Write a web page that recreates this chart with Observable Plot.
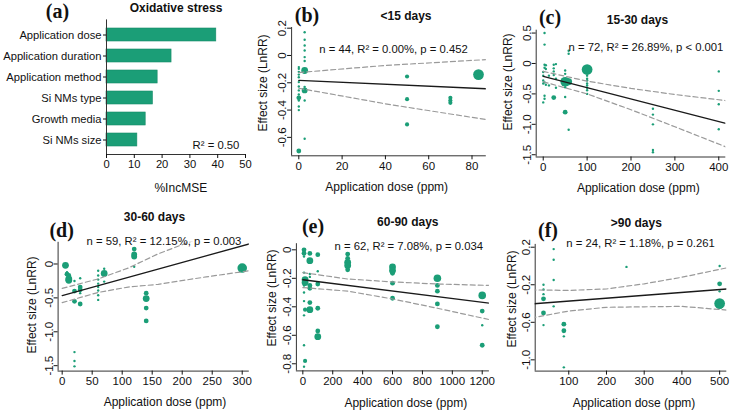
<!DOCTYPE html>
<html><head><meta charset="utf-8">
<script src="https://cdn.jsdelivr.net/npm/d3@7"></script>
<script src="https://cdn.jsdelivr.net/npm/@observablehq/plot@0.6"></script>
<style>
body{margin:0;background:#fff;font-family:"Liberation Sans",Arial,sans-serif;color:#111}
#fig{position:relative;width:732px;height:414px;overflow:hidden}
.panel{position:absolute}
.panel svg{overflow:visible}
.lbl{position:absolute;transform:translate(-50%,-50%);white-space:nowrap;line-height:1}
.letter{font-family:"Liberation Serif",serif;font-weight:bold;font-size:20px}
.title{font-weight:bold;font-size:12px}
.stat{font-size:11.3px}
.axt{font-size:12px}
</style></head><body><div id="fig"></div>
<script>
// ---------- (a) Random forest importance ----------
const aCategories = ["Application dose","Application duration","Application method","Si NMs type","Growth media","Si NMs size"];
const aIncMSE = [39.5, 23.4, 18.4, 16.7, 14.1, 11.1];
const aXTicks = [0,10,20,30,40,50];

// ---------- (b) <15 days ----------
const bDose = [0,0,0,0,0,0,0,0,0,0,0,0,0,0, 2.7,2.7,2.7,2.7,2.7,2.7,2.7,2.7,2.7,2.7,2.7, 50,50,50, 70,70,70, 83];
const bLnRR = [-0.085,-0.098,-0.12,-0.14,-0.16,-0.195,-0.227,-0.256,-0.286,-0.31,-0.33,-0.374,-0.40,-0.70,
  0.17,0.115,0.073,0.037,-0.012,-0.04,-0.11,-0.23,-0.256,-0.33,-0.61, -0.154,-0.32,-0.505, -0.31,-0.33,-0.347, -0.14];
const bWeight = [1,1,1,1,1,1,1,1,1,4,1,1,1,4, 1,1,1,1,1,1,8,1,6,1,1, 3,3,3, 3,3,3, 20];
const bFitDose = [0, 86.6], bFitLnRR = [-0.183, -0.244];
const bCIDose = [0, 40, 86.6], bCIUpper = [-0.125, -0.073, -0.03], bCILower = [-0.24, -0.354, -0.47];
const bXTicks = [0,20,40,60,80], bYTicks = [-0.6,-0.4,-0.2,0,0.2];

// ---------- (c) 15-30 days ----------
const cDose = [0,0,0,0,0, 3,3,3,3,3,3,3, 6,6,6, 13,13, 24,24,24,24,24, 29,29,29, 50,50,50,50,50,50, 58,58,58,58,
  100,100,100,100,100,100,100,100,100, 250,250,250,250,250, 400,400,400,400];
const cLnRR = [-0.14,-0.20,-0.28,-0.33,-0.64, 0.50,0.31,-0.02,-0.07,-0.31,-0.53,-0.58, -0.03,-0.09,-0.35, -0.20,-0.36,
  -0.02,-0.08,-0.13,-0.19,-0.56, -0.01,-0.25,-0.40, -0.115,-0.17,-0.39,-0.55,-0.30,-0.80, 0.21,0.16,-1.09,-0.30,
  -0.10,-0.20,-0.25,-0.28,-0.33,-0.36,-0.40,-0.44,-0.50, -0.745,-0.84,-1.0,-1.42,-1.46, -0.13,-0.45,-0.67,-1.08];
const cWeight = [1,1,1,1,1, 1,1,1,1,1,1,1, 1,1,1, 1,1, 1,1,1,1,4, 1,1,1, 1,1,1,1,16,4, 1,1,1,8,
  20,1,1,1,1,1,1,1,1, 1,1,1,1,1, 1,1,1,1];
const cFitDose = [0, 416], cFitLnRR = [-0.21, -0.985];
const cCIDose = [0,100,200,300,416], cCIUpper = [-0.13,-0.29,-0.41,-0.51,-0.61], cCILower = [-0.30,-0.50,-0.76,-1.04,-1.37];
const cXTicks = [0,100,200,300,400], cYTicks = [-1.5,-1,-0.5,0,0.5];

// ---------- (d) 30-60 days ----------
const dDose = [5.5, 8,8, 11,11,11, 20.5,20.5,20.5,20.5,20.5,20.5, 30,30,30,30,30, 60,60,60,60,60,60,60,60, 70,70,70,
  120,120,120,120, 140,140,140,140, 300];
const dLnRR = [-0.02, -0.12,-0.15, -0.17,-0.22,-0.24, -0.25,-0.40,-0.55,-1.30,-1.43,-1.51, -0.21,-0.34,-0.38,-0.43,-0.59,
  -0.10,-0.17,-0.23,-0.29,-0.34,-0.39,-0.46,-0.53, -0.07,-0.14,-0.26, 0.22,0.14,0.11,-0.04, -0.43,-0.51,-0.65,-0.84, -0.06];
const dWeight = [8, 1,4, 4,8,8, 1,4,4,1,1,1, 1,4,4,1,4, 1,1,1,1,1,1,1,1, 1,8,1, 4,6,6,1, 4,8,4,4, 16];
const dFitDose = [0, 311.8], dFitLnRR = [-0.465, 0.296];
const dCIDose = [0,60,110,160,240,311.8], dCIUpper = [-0.36,-0.22,-0.06,0.15,0.42,0.69], dCILower = [-0.57,-0.42,-0.34,-0.30,-0.19,-0.10];
const dXTicks = [0,50,100,150,200,250,300], dYTicks = [-1.5,-1,-0.5,0];

// ---------- (e) 60-90 days ----------
const eDose = [8,8,8,8,8,8,8,8,8,8, 15,15,15,15, 47,47,47,47,47,47,47,47, 100,100,100,100,100,100,
  300,300,300,300,300, 600,600,600,600,600, 900,900,900,900,900, 1200,1200,1200,1200];
const eLnRR = [0.0,-0.024,-0.047,-0.16,-0.25,-0.30,-0.36,-0.46,-0.67,-0.82, -0.21,-0.23,-0.42,-0.78,
  -0.025,-0.076,-0.17,-0.19,-0.25,-0.27,-0.37,-0.42, -0.034,-0.15,-0.24,-0.41,-0.57,-0.61,
  -0.03,-0.06,-0.088,-0.11,-0.14, -0.12,-0.146,-0.165,-0.234,-0.34, -0.20,-0.25,-0.29,-0.38,-0.54, -0.32,-0.43,-0.53,-0.67];
const eWeight = [4,4,1,1,1,1,1,1,1,1, 8,8,3,3, 4,8,1,1,4,4,4,8, 4,1,4,4,4,8, 4,4,8,8,4, 8,8,4,4,4, 10,4,4,4,4, 10,4,1,4];
const eFitDose = [0, 1248], eFitLnRR = [-0.21, -0.374];
const eCIDose = [0,300,600,900,1248], eCIUpper = [-0.16,-0.205,-0.225,-0.24,-0.25], eCILower = [-0.265,-0.29,-0.345,-0.41,-0.49];
const eXTicks = [0,200,400,600,800,1000,1200], eYTicks = [-0.8,-0.6,-0.4,-0.2,0];

// ---------- (f) >90 days ----------
const fDose = [33,33,33,33,33,33, 60,60,60,60, 87,87,87,87, 253, 500,500,500,500,500];
const fLnRR = [-0.20,-0.25,-0.30,-0.35,-0.50,-0.63, 0.18,0.066,-0.15,-0.43, -0.62,-0.69,-0.75,-1.08, -0.01, 0.0,-0.19,-0.27,-0.40,-0.42];
const fWeight = [1,1,1,4,4,1, 1,1,1,1, 4,4,1,1, 1, 1,4,1,20,8];
const fFitDose = [0, 519], fFitLnRR = [-0.405, -0.245];
const fCIDose = [0,100,200,300,400,519], fCIUpper = [-0.255,-0.26,-0.245,-0.19,-0.12,-0.02], fCILower = [-0.555,-0.48,-0.44,-0.435,-0.43,-0.47];
const fXTicks = [100,200,300,400,500], fYTicks = [-1,-0.6,-0.2,0.2];

// ---------- drawing ----------
const GREEN = "#1b9e77";
const fig = document.getElementById("fig");
const baseStyle = {fontFamily: "Liberation Sans, Arial, sans-serif", fontSize: "11.5px", color: "#111", background: "transparent", overflow: "visible"};

function place(node, left, top) {
  const div = document.createElement("div");
  div.className = "panel";
  div.style.left = left + "px"; div.style.top = top + "px";
  div.appendChild(node); fig.appendChild(div);
}
function label(text, x, y, cls, rot) {
  const d = document.createElement("div");
  d.className = "lbl " + cls;
  d.textContent = text;
  d.style.left = x + "px"; d.style.top = y + "px";
  if (rot) d.style.transform = "translate(-50%,-50%) rotate(" + rot + "deg)";
  fig.appendChild(d);
}

// (a)
const aData = aCategories.map((c, i) => ({cat: c, v: aIncMSE[i]}));
place(Plot.plot({
  width: 250, height: 200, marginLeft: 106, marginRight: 5, marginTop: 19.4, marginBottom: 46,
  style: {...baseStyle, fontSize: "11.2px"},
  x: {domain: [0, 50]},
  y: {domain: aCategories, paddingInner: 0.4, paddingOuter: 0.26},
  marks: [
    Plot.barX(aData, {x: "v", y: "cat", fill: GREEN, stroke: "#178a68", strokeWidth: 0.6}),
    Plot.ruleX([0], {stroke: "#333"}),
    Plot.frame({anchor: "bottom", stroke: "#333"}),
    Plot.axisX({ticks: aXTicks, tickSize: 4, tickPadding: 2, tickFormat: d => String(d), label: null}),
    Plot.axisY({tickSize: 3, tickPadding: 2, label: null})
  ]
}), 0, 0);

const xFmt = d => String(d);
const yFmt = d => d === 0 ? "0" : d.toFixed(1);

function scatter(p) {
  const pts = p.dose.map((d, i) => ({dose: d, lnrr: p.lnrr[i], w: p.weight[i]}));
  const fit = p.fitDose.map((d, i) => ({dose: d, lnrr: p.fitLnRR[i]}));
  const up = p.ciDose.map((d, i) => ({dose: d, lnrr: p.ciUp[i]}));
  const lo = p.ciDose.map((d, i) => ({dose: d, lnrr: p.ciLo[i]}));
  return Plot.plot({
    width: p.w, height: p.h, marginLeft: p.mL, marginRight: p.mR, marginTop: p.mT, marginBottom: p.mB,
    style: baseStyle,
    x: {domain: p.xDomain},
    y: {domain: p.yDomain},
    r: {type: "sqrt", domain: [0, 25], range: [0, 6]},
    marks: [
      Plot.ruleX([p.xDomain[0]], {stroke: "#333"}),
      Plot.ruleY([p.yDomain[0]], {stroke: "#333"}),
      Plot.axisX({ticks: p.xTicks, tickSize: 4, tickPadding: 2, tickFormat: xFmt, label: null}),
      Plot.axisY({ticks: p.yTicks, tickSize: 4, tickRotate: -90, tickPadding: 1.5, tickFormat: yFmt, label: null}),
      Plot.dot(pts, {x: "dose", y: "lnrr", r: "w", fill: GREEN, stroke: "none"}),
      Plot.line(up, {x: "dose", y: "lnrr", stroke: "#9a9a9a", strokeWidth: 1.2, strokeDasharray: "5,3", clip: true}),
      Plot.line(lo, {x: "dose", y: "lnrr", stroke: "#9a9a9a", strokeWidth: 1.2, strokeDasharray: "5,3", clip: true}),
      Plot.line(fit, {x: "dose", y: "lnrr", stroke: "#1a1a1a", strokeWidth: 1.3, clip: true})
    ]
  });
}

place(scatter({dose: bDose, lnrr: bLnRR, weight: bWeight, fitDose: bFitDose, fitLnRR: bFitLnRR,
  ciDose: bCIDose, ciUp: bCIUpper, ciLo: bCILower, xTicks: bXTicks, yTicks: bYTicks,
  xDomain: [-3.33, 86.6], yDomain: [-0.735, 0.205], w: 250, h: 200, mL: 51.1, mR: 4.2, mT: 27, mB: 44.7}), 240, 0);
place(scatter({dose: cDose, lnrr: cLnRR, weight: cWeight, fitDose: cFitDose, fitLnRR: cFitLnRR,
  ciDose: cCIDose, ciUp: cCIUpper, ciLo: cCILower, xTicks: cXTicks, yTicks: cYTicks,
  xDomain: [-16, 416], yDomain: [-1.537, 0.547], w: 252, h: 200, mL: 55.7, mR: 6.7, mT: 29.7, mB: 43.5}), 480, 0);
place(scatter({dose: dDose, lnrr: dLnRR, weight: dWeight, fitDose: dFitDose, fitLnRR: dFitLnRR,
  ciDose: dCIDose, ciUp: dCIUpper, ciLo: dCILower, xTicks: dXTicks, yTicks: dYTicks,
  xDomain: [-6.8, 311.8], yDomain: [-1.58, 0.32], w: 250, h: 214, mL: 57.6, mR: 1.2, mT: 41.8, mB: 43.4}), 0, 200);
place(scatter({dose: eDose, lnrr: eLnRR, weight: eWeight, fitDose: eFitDose, fitLnRR: eFitLnRR,
  ciDose: eCIDose, ciUp: eCIUpper, ciLo: eCILower, xTicks: eXTicks, yTicks: eYTicks,
  xDomain: [-43, 1248], yDomain: [-0.85, 0.043], w: 250, h: 214, mL: 55.9, mR: 1.1, mT: 43.2, mB: 43.6}), 240, 200);
place(scatter({dose: fDose, lnrr: fLnRR, weight: fWeight, fitDose: fFitDose, fitLnRR: fFitLnRR,
  ciDose: fCIDose, ciUp: fCIUpper, ciLo: fCILower, xTicks: fXTicks, yTicks: fYTicks,
  xDomain: [11, 519], yDomain: [-1.12, 0.23], w: 252, h: 214, mL: 54.7, mR: 5.7, mT: 43.9, mB: 43.4}), 480, 200);

// text annotations
label("(a)", 57.5, 11, "letter");
label("(b)", 307, 15, "letter");
label("(c)", 550, 16.5, "letter");
label("(d)", 61.7, 230, "letter");
label("(e)", 313, 226, "letter");
label("(f)", 548, 230, "letter");
label("Oxidative stress", 176, 7.5, "title");
label("<15 days", 406, 15.7, "title");
label("15-30 days", 637.5, 19.5, "title");
label("30-60 days", 154.5, 216.7, "title");
label("60-90 days", 407.8, 221.7, "title");
label(">90 days", 636.3, 222.7, "title");
label("R² = 0.50", 216, 145.7, "stat");
label("n = 44, R² = 0.00%, p = 0.452", 393.5, 50, "stat");
label("n = 72, R² = 26.89%, p < 0.001", 646, 48.3, "stat");
label("n = 59, R² = 12.15%, p = 0.003", 164, 241.7, "stat");
label("n = 62, R² = 7.08%, p = 0.034", 408.8, 246.7, "stat");
label("n = 24, R² = 1.18%, p = 0.261", 640.5, 244.3, "stat");
label("%IncMSE", 180.8, 187.7, "axt");
label("Application dose (ppm)", 386.7, 186.7, "axt");
label("Application dose (ppm)", 638.3, 188.3, "axt");
label("Application dose (ppm)", 165, 401.7, "axt");
label("Application dose (ppm)", 405.8, 403.3, "axt");
label("Application dose (ppm)", 634, 403.3, "axt");
label("Effect size (LnRR)", 263.3, 83.3, "axt", -90);
label("Effect size (LnRR)", 508.3, 81.7, "axt", -90);
label("Effect size (LnRR)", 31.7, 305, "axt", -90);
label("Effect size (LnRR)", 271.7, 298.3, "axt", -90);
label("Effect size (LnRR)", 511.7, 299, "axt", -90);
</script>
</body></html>
